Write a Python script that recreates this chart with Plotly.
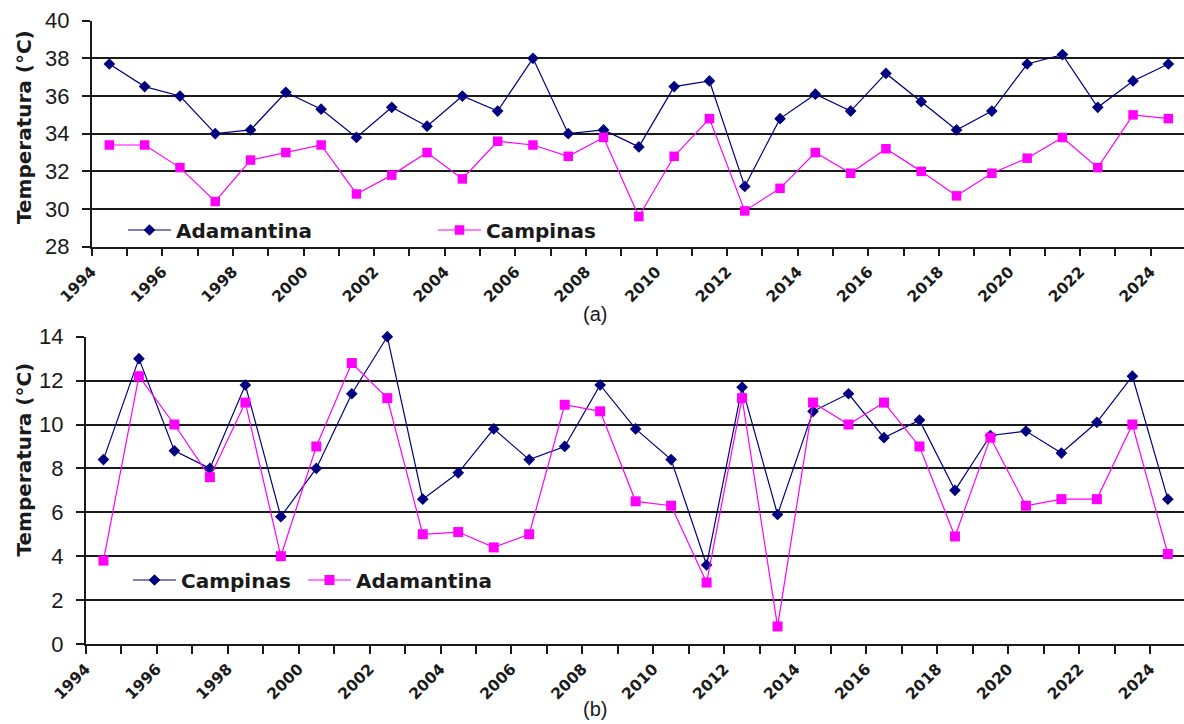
import plotly.graph_objects as go

# ---------------- data ----------------
years = list(range(1994, 2025))

# (a) maximum temperatures
a_adamantina = [37.7, 36.5, 36.0, 34.0, 34.2, 36.2, 35.3, 33.8, 35.4, 34.4,
                36.0, 35.2, 38.0, 34.0, 34.2, 33.3, 36.5, 36.8, 31.2, 34.8,
                36.1, 35.2, 37.2, 35.7, 34.2, 35.2, 37.7, 38.2, 35.4, 36.8, 37.7]
a_campinas = [33.4, 33.4, 32.2, 30.4, 32.6, 33.0, 33.4, 30.8, 31.8, 33.0,
              31.6, 33.6, 33.4, 32.8, 33.8, 29.6, 32.8, 34.8, 29.9, 31.1,
              33.0, 31.9, 33.2, 32.0, 30.7, 31.9, 32.7, 33.8, 32.2, 35.0, 34.8]

# (b) minimum temperatures
b_campinas = [8.4, 13.0, 8.8, 8.0, 11.8, 5.8, 8.0, 11.4, 14.0, 6.6,
              7.8, 9.8, 8.4, 9.0, 11.8, 9.8, 8.4, 3.6, 11.7, 5.9,
              10.6, 11.4, 9.4, 10.2, 7.0, 9.5, 9.7, 8.7, 10.1, 12.2, 6.6]
b_adamantina = [3.8, 12.2, 10.0, 7.6, 11.0, 4.0, 9.0, 12.8, 11.2, 5.0,
                5.1, 4.4, 5.0, 10.9, 10.6, 6.5, 6.3, 2.8, 11.2, 0.8,
                11.0, 10.0, 11.0, 9.0, 4.9, 9.4, 6.3, 6.6, 6.6, 10.0, 4.1]

label_years = years[::2]
tick_text = [str(y) for y in label_years]
y_title = "Temperatura (°C)"

# ---------------- style ----------------
W, H = 1184, 724
NAVY = "#000080"
MAGENTA = "#FF00FF"
INK = "#1a1a1a"

def px_x(p):
    return p / W

def px_y(p):
    return 1 - p / H

fig = go.Figure()

def add_series(x, y, name, color, symbol, size, xa, ya, legend):
    fig.add_trace(go.Scatter(
        x=x, y=y, name=name, mode="lines+markers",
        line=dict(color=color, width=1.2),
        marker=dict(symbol=symbol, size=size, color=color,
                    line=dict(width=0)),
        xaxis=xa, yaxis=ya, legend=legend, showlegend=True,
        cliponaxis=False,
    ))

add_series(years, a_adamantina, "Adamantina", NAVY, "diamond", 9, "x", "y", "legend")
add_series(years, a_campinas, "Campinas", MAGENTA, "square", 9.5, "x", "y", "legend2")
add_series(years, b_campinas, "Campinas", NAVY, "diamond", 9, "x2", "y2", "legend3")
add_series(years, b_adamantina, "Adamantina", MAGENTA, "square", 10, "x2", "y2", "legend4")

boundaries = [y - 0.5 for y in years]

def xaxis_cfg(left_px, px_per_year, anchor):
    rng_max = 1993.5 + (W - left_px) / px_per_year
    return dict(
        domain=[px_x(left_px), 1], anchor=anchor,
        range=[1993.5, rng_max],
        tickmode="array",
        tickvals=[y - 0.5 for y in label_years], ticktext=tick_text,
        ticks="outside", ticklen=8, tickwidth=1.5, tickcolor=INK,
        tickangle=-45,
        tickfont=dict(family="DejaVu Sans", size=15.5, color=INK, weight="bold"),
        minor=dict(tickmode="array", tickvals=boundaries, ticks="outside",
                   ticklen=8, tickwidth=1.5, tickcolor=INK, showgrid=False),
        showline=True, linecolor=INK, linewidth=1.5,
        showgrid=False, zeroline=False,
    )

def yaxis_cfg(top_px, bot_px, rng, anchor):
    return dict(
        domain=[px_y(bot_px), px_y(top_px)], anchor=anchor,
        range=rng, dtick=2, tick0=0,
        ticks="outside", ticklen=8, tickwidth=1.5, tickcolor=INK,
        tickfont=dict(family="Liberation Sans", size=22, color=INK),
        ticklabelstandoff=8,
        showline=True, linecolor=INK, linewidth=1.5,
        showgrid=True, gridcolor=INK, gridwidth=1.5,
        zeroline=False,
    )

legend_common = dict(
    orientation="h", xanchor="left", yanchor="middle",
    bgcolor="rgba(0,0,0,0)", borderwidth=0, itemwidth=43,
    font=dict(family="DejaVu Sans", size=20, color=INK, weight="bold"),
)

fig.update_layout(
    width=W, height=H,
    margin=dict(l=0, r=0, t=0, b=0),
    template="none",
    paper_bgcolor="white", plot_bgcolor="white",
    xaxis=xaxis_cfg(91.7, 35.3, "y"),
    yaxis=yaxis_cfg(20.7, 246.7, [28, 40], "x"),
    xaxis2=xaxis_cfg(85.7, 35.48, "y2"),
    yaxis2=yaxis_cfg(336.7, 644, [0, 14], "x2"),
    legend=dict(legend_common, x=px_x(123), y=px_y(230)),
    legend2=dict(legend_common, x=px_x(433), y=px_y(230)),
    legend3=dict(legend_common, x=px_x(128), y=px_y(580)),
    legend4=dict(legend_common, x=px_x(303), y=px_y(580)),
    showlegend=True,
)

# y-axis titles and panel labels
for yc in (127.5, 460):
    fig.add_annotation(
        text=y_title, xref="paper", yref="paper",
        x=px_x(23.5), y=px_y(yc), textangle=-90, showarrow=False,
        xanchor="center", yanchor="middle",
        font=dict(family="DejaVu Sans", size=20, color=INK, weight="bold"),
    )

for label, yc in (("(a)", 314), ("(b)", 709)):
    fig.add_annotation(
        text=label, xref="paper", yref="paper",
        x=px_x(595.5), y=px_y(yc), showarrow=False,
        xanchor="center", yanchor="middle",
        font=dict(family="Liberation Sans", size=20, color=INK),
    )

fig.write_html(
    "out.html",
    config={"displayModeBar": False},
    post_script="document.body.style.margin='0';document.body.style.overflow='hidden';",
)
